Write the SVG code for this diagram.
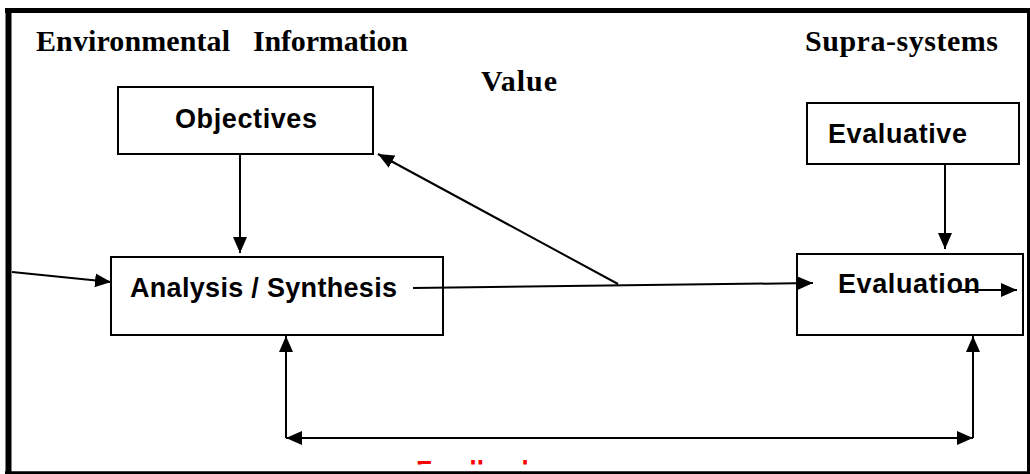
<svg xmlns="http://www.w3.org/2000/svg" width="1030" height="474" viewBox="0 0 1030 474">
  <style>
    .box { fill: #ffffff; stroke: #000000; stroke-width: 2; }
    .lbl { font-family: "Liberation Sans", Arial, sans-serif; font-weight: bold; font-size: 27px; fill: #000000; }
    .hdr { font-family: "Liberation Serif", "Times New Roman", serif; font-weight: bold; font-size: 30px; fill: #000000; }
    .conn { stroke: #000000; stroke-width: 2; fill: none; }
    .fb { font-family: "Liberation Sans", Arial, sans-serif; font-weight: bold; font-size: 26px; fill: #ff0000; }
  </style>
  <defs>
    <marker id="ah" viewBox="0 0 16 14" refX="16" refY="7" markerWidth="16" markerHeight="14" markerUnits="userSpaceOnUse" orient="auto">
      <path d="M0,0 L16,7 L0,14 Z" fill="#000000"/>
    </marker>
    <marker id="ahs" viewBox="0 0 16 14" refX="0" refY="7" markerWidth="16" markerHeight="14" markerUnits="userSpaceOnUse" orient="auto">
      <path d="M16,0 L0,7 L16,14 Z" fill="#000000"/>
    </marker>
    <clipPath id="fbclip">
      <rect x="380" y="440" width="200" height="24.5"/>
    </clipPath>
  </defs>
  <rect x="0" y="0" width="1030" height="474" fill="#ffffff"/>

  <!-- frame -->
  <g id="frame" stroke="#000000">
    <line x1="5" y1="10.5" x2="1030" y2="10.5" stroke-width="5"/>
    <line x1="8.5" y1="8" x2="8.5" y2="474" stroke-width="6"/>
    <line x1="1028.5" y1="8" x2="1028.5" y2="474" stroke-width="3"/>
    <line x1="5" y1="472.8" x2="1030" y2="472.8" stroke-width="3"/>
  </g>

  <!-- headings -->
  <g id="headings">
    <text class="hdr" y="51"><tspan x="36" textLength="194">Environmental</tspan><tspan x="253" textLength="155">Information</tspan></text>
    <text class="hdr" x="805" y="51" textLength="193">Supra-systems</text>
    <text class="hdr" x="481" y="91" textLength="76">Value</text>
  </g>

  <!-- nodes -->
  <g id="objectives">
    <rect class="box" x="118" y="87" width="255" height="67"/>
    <text class="lbl" x="175" y="128" textLength="142">Objectives</text>
  </g>
  <g id="analysis">
    <rect class="box" x="111" y="257" width="332" height="78"/>
    <text class="lbl" x="130" y="297" textLength="267">Analysis / Synthesis</text>
  </g>
  <g id="evaluative">
    <rect class="box" x="807" y="103" width="212" height="61"/>
    <text class="lbl" x="828" y="143" textLength="139">Evaluative</text>
  </g>
  <g id="evaluation">
    <rect class="box" x="797" y="254" width="226" height="81"/>
    <text class="lbl" x="838" y="293" textLength="142">Evaluation</text>
  </g>

  <!-- connectors -->
  <g id="connectors">
    <line class="conn" x1="12" y1="272" x2="111" y2="282" marker-end="url(#ah)"/>
    <line class="conn" x1="240" y1="154" x2="240" y2="253" marker-end="url(#ah)"/>
    <line class="conn" x1="945" y1="164" x2="945" y2="249" marker-end="url(#ah)"/>
    <line class="conn" x1="413" y1="288" x2="813" y2="283" marker-end="url(#ah)"/>
    <line class="conn" x1="618" y1="284" x2="378" y2="154" marker-end="url(#ah)"/>
    <line class="conn" x1="957" y1="290" x2="1017" y2="290" marker-end="url(#ah)"/>
    <line class="conn" x1="286" y1="438" x2="286" y2="336" marker-end="url(#ah)"/>
    <line class="conn" x1="973" y1="438" x2="973" y2="336" marker-end="url(#ah)"/>
    <line class="conn" x1="286" y1="438" x2="973" y2="438" marker-start="url(#ahs)" marker-end="url(#ah)"/>
  </g>

  <!-- feedback label (cut off at bottom, as in the reference) -->
  <g id="feedback" clip-path="url(#fbclip)">
    <text class="fb" x="416" y="479">Feedback</text>
  </g>
</svg>
